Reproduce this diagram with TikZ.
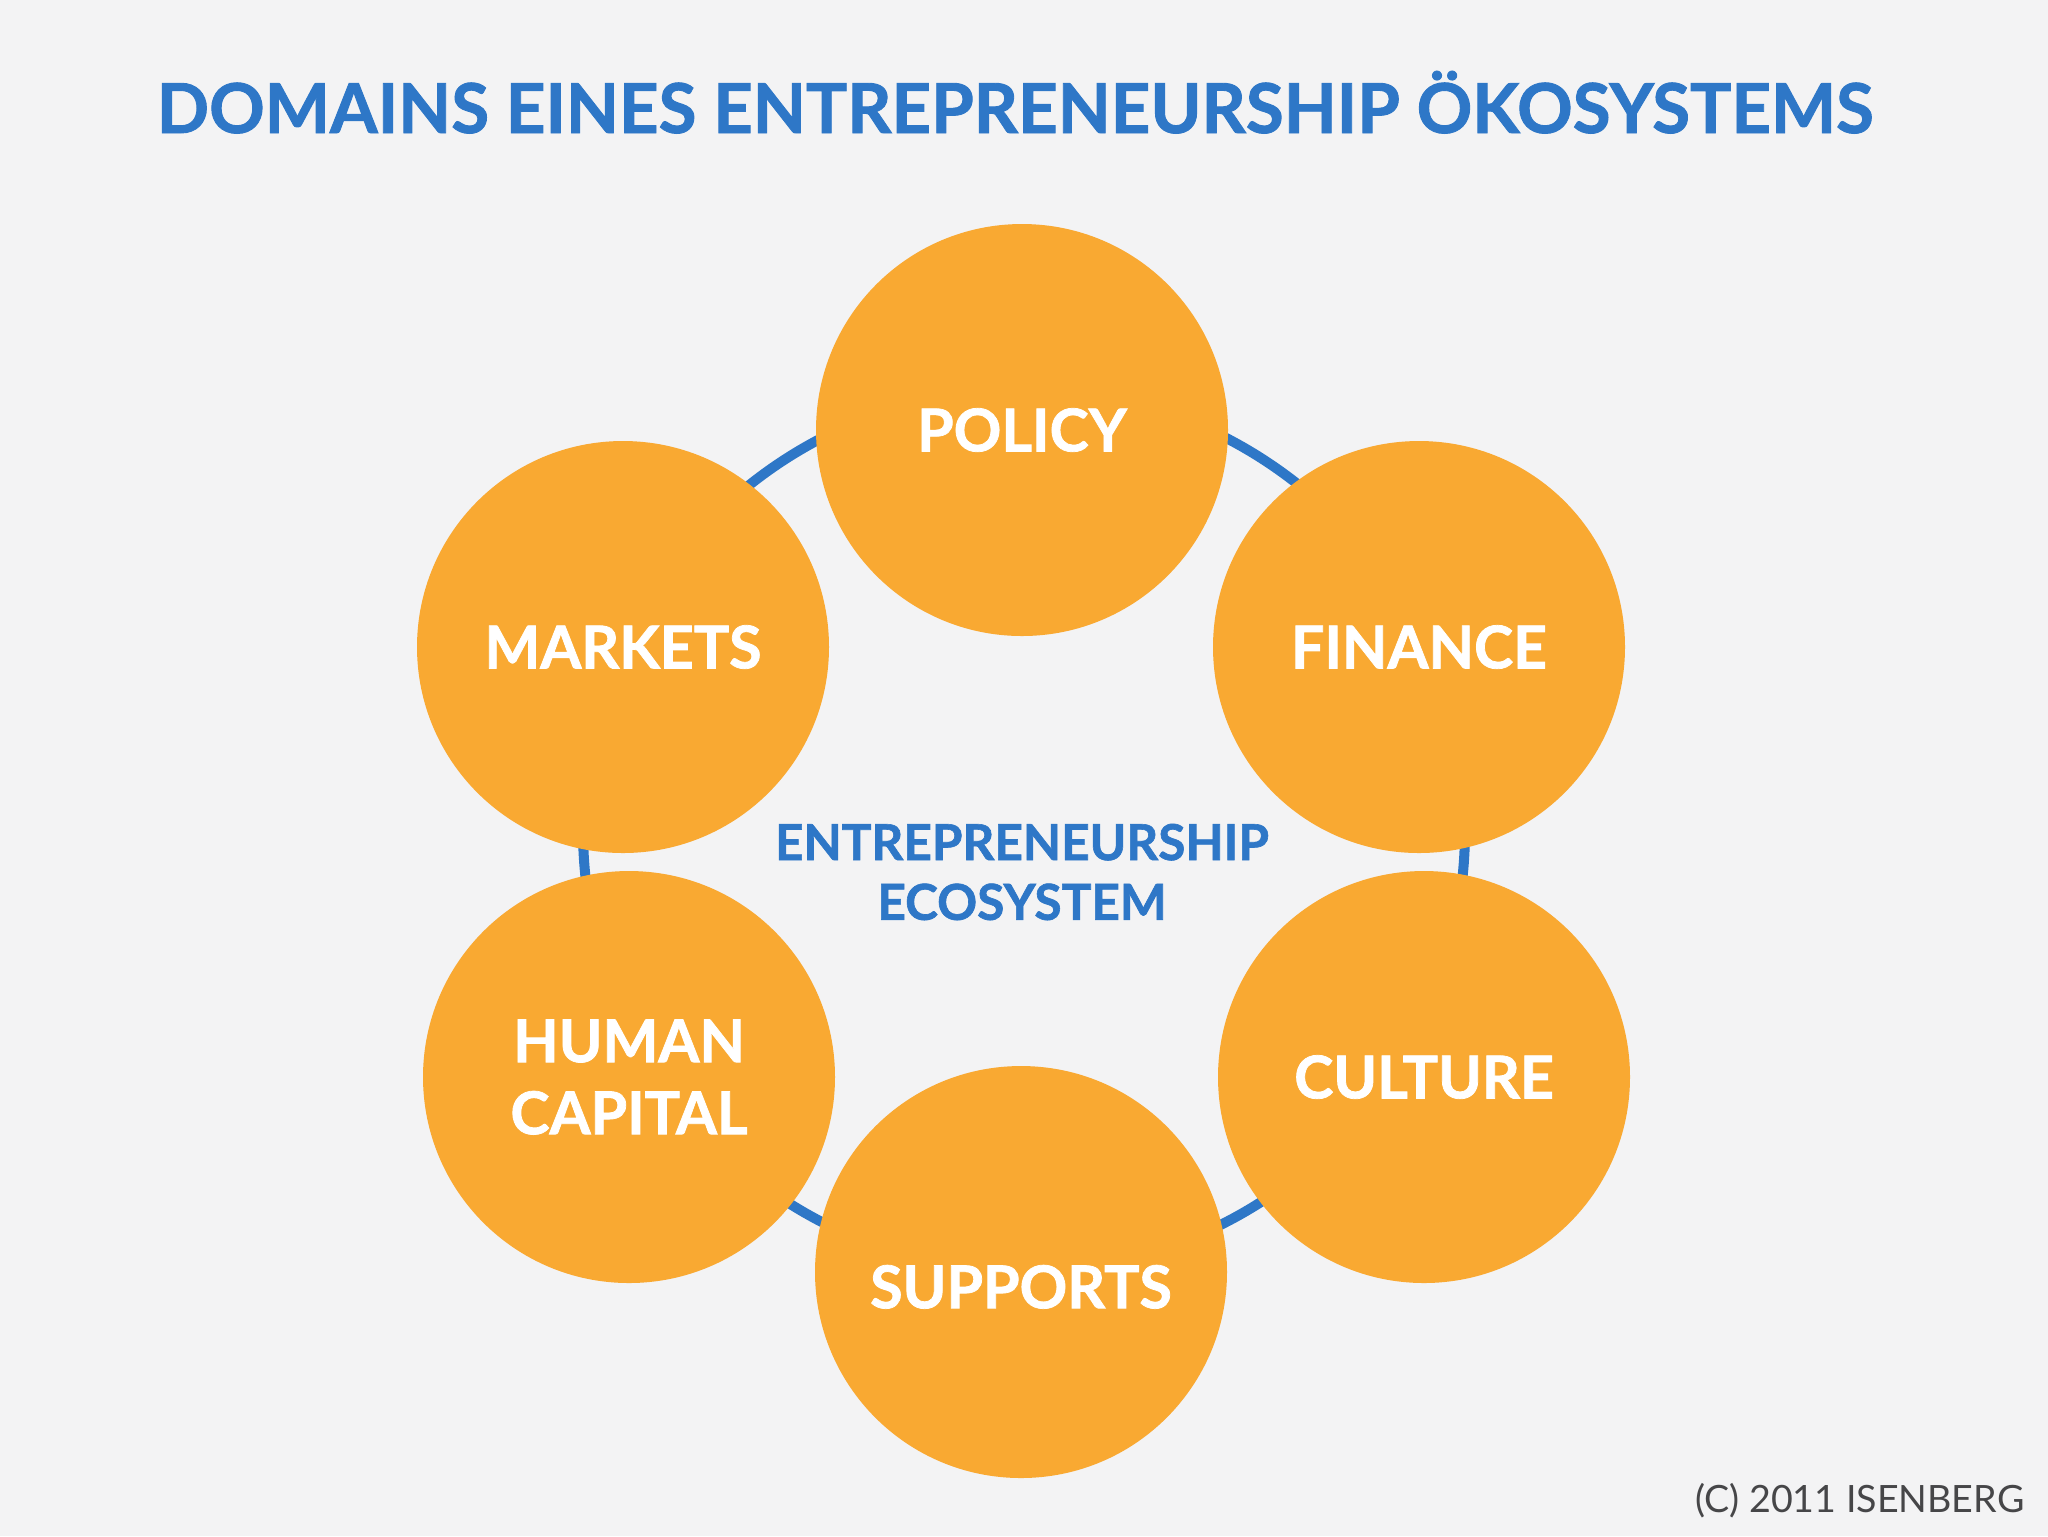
\documentclass[tikz,border=0pt]{standalone}
\usepackage{fontspec}
\setmainfont{Lato}[BoldFeatures={FakeBold=1.3}]
\usetikzlibrary{positioning}
\definecolor{ecoorange}{RGB}{249,169,50}
\definecolor{ecoblue}{RGB}{46,119,199}
\definecolor{ecobg}{RGB}{243,243,244}
\definecolor{ecogray}{RGB}{70,70,72}

\begin{document}
\begin{tikzpicture}[x=0.1mm, y=-0.1mm,
	bubble/.style={circle, fill=ecoorange, text=white, minimum size=41.2mm, inner sep=0pt, align=center, font=\bfseries\fontsize{16.8}{20.5}\selectfont}]
	
	% Background
	\fill[ecobg] (0,0) rectangle (2048,1536);
	\useasboundingbox (0,0) rectangle (2048,1536);
	
	% Title
	\node[anchor=base, text=ecoblue, font=\bfseries\fontsize{19.6}{24}\selectfont] (title) at (1015,133) {DOMAINS EINES ENTREPRENEURSHIP ÖKOSYSTEMS};
	
	% Ring behind the domains
	\coordinate (hub) at (1024,830);
	\draw[ecoblue, line width=2.85pt] (hub) circle[radius=44.1mm];
	
	% Domains
	\node[bubble] (policy)   at (1022,430)  {POLICY};
	\node[bubble] (finance)  at (1419,647)  {FINANCE};
	\node[bubble] (culture)  at (1424,1077) {CULTURE};
	\node[bubble, text height=20.6pt, text depth=0pt] (supports) at (1021,1272) {SUPPORTS};
	\node[bubble] (human)    at (629,1077)  {HUMAN\\CAPITAL};
	\node[bubble] (markets)  at (623,647)   {MARKETS};
	
	% Center label
	\node[text=ecoblue, align=center, font=\bfseries\fontsize{14.1}{17}\selectfont] (eco) at (1022,872) {ENTREPRENEURSHIP\\ECOSYSTEM};
	
	% Copyright
	\node[anchor=base east, inner sep=0pt, text=ecogray, font=\fontsize{10.7}{12}\selectfont] (copy) at (2025,1512) {(C) 2011 ISENBERG};
	
\end{tikzpicture}
\end{document}
